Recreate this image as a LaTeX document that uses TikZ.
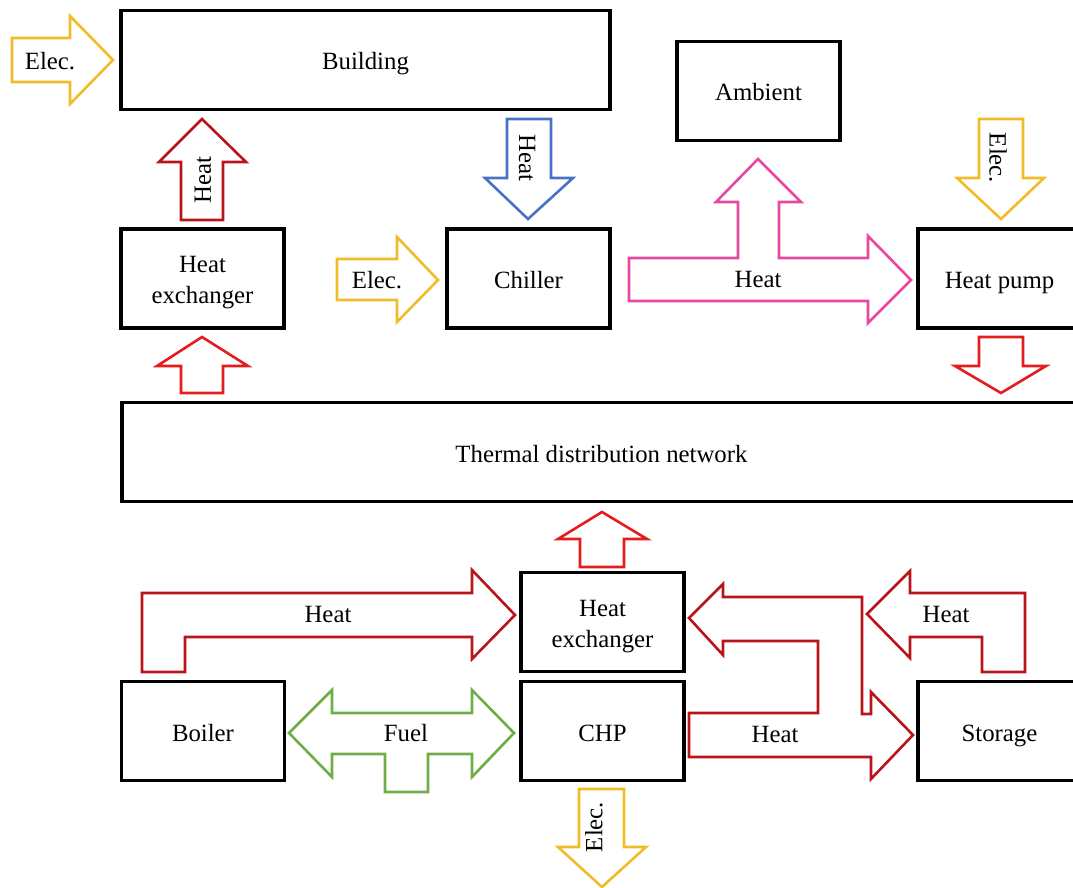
\documentclass[tikz,border=0pt]{standalone}
\usepackage{fontspec}
\setmainfont{Liberation Serif}
\definecolor{elecc}{RGB}{240,188,40}
\definecolor{heatdark}{RGB}{185,20,25}
\definecolor{heatred}{RGB}{228,28,28}
\definecolor{coolblue}{RGB}{72,114,196}
\definecolor{pinkc}{RGB}{232,72,160}
\definecolor{fuelc}{RGB}{112,173,71}

\begin{document}
\begin{tikzpicture}[x=0.5pt,y=-0.5pt,
   every node/.style={font=\fontsize{12.4}{15.5}\selectfont},
   box/.style={draw,line width=1.6pt,minimum width=81.5pt,minimum height=49.5pt,
     align=center,inner sep=1pt,text height=10pt,text depth=0pt},
   twoline/.style={text height=25.5pt,text depth=0pt},
   flow/.style={line width=1.3pt,line join=miter}]
  \useasboundingbox (0,0) rectangle (1073,888);
  % units
  \node[box,minimum width=244.5pt] (building) at (365.5,60) {Building};
  \node[box] (ambient) at (758.5,91) {Ambient};
  \node[box,twoline] (hxtop) at (202.5,278.5) {Heat\\exchanger};
  \node[box] (chiller) at (528.5,278.5) {Chiller};
  \node[box] (hpump) at (999.5,278.5) {Heat pump};
  \node[box,minimum width=479.5pt] (network) at (601.5,452) {Thermal distribution network};
  \node[box,twoline] (hxbot) at (602.5,622) {Heat\\exchanger};
  \node[box] (chp) at (602.5,731) {CHP};
  \node[box] (boiler) at (203,731) {Boiler};
  \node[box] (storage) at (999.5,731) {Storage};
  % upper flows
  \draw[flow,elecc] (12,38) -- (70,38) -- (70,16) -- (113,60) -- (70,104) -- (70,82) -- (12,82) -- cycle;
  \node (elec1) at (50,61) {Elec.};
  \draw[flow,heatdark] (181,220) -- (181,162) -- (159,162) -- (202,119) -- (246,162) -- (223,162) -- (223,220) -- cycle;
  \node[rotate=90] (heat1) at (203,180) {Heat};
  \draw[flow,coolblue] (507,119) -- (551,119) -- (551,178) -- (573,178) -- (528,219) -- (485,178) -- (507,178) -- cycle;
  \node[rotate=-90] (heat2) at (527,158) {Heat};
  \draw[flow,elecc] (337,259) -- (397,259) -- (397,237) -- (438,280) -- (397,322) -- (397,300) -- (337,300) -- cycle;
  \node (elec2) at (377,280) {Elec.};
  \draw[flow,pinkc] (629,258) -- (738,258) -- (738,202) -- (716,202) -- (758,159) -- (801,202) -- (779,202)
    -- (779,258) -- (868,258) -- (868,236) -- (911,280) -- (868,323) -- (868,301) -- (629,301) -- cycle;
  \node (heat3) at (758,280) {Heat};
  \draw[flow,elecc] (979,119) -- (1023,119) -- (1023,178) -- (1044,178) -- (1001,219) -- (957,178) -- (979,178) -- cycle;
  \node[rotate=-90] (elec3) at (998,158) {Elec.};
  % network links
  \draw[flow,heatred] (979,337) -- (1023,337) -- (1023,366) -- (1046,366) -- (1001,393) -- (955,366) -- (979,366) -- cycle;
  \draw[flow,heatred] (181,393) -- (181,366) -- (157,366) -- (202,337) -- (248,366) -- (223,366) -- (223,393) -- cycle;
  \draw[flow,heatred] (580,567) -- (580,539) -- (558,539) -- (602,512) -- (647,539) -- (624,539) -- (624,567) -- cycle;
  % lower flows
  \draw[flow,heatdark] (142,672) -- (142,593) -- (472,593) -- (472,570) -- (515,615) -- (472,659) -- (472,637)
    -- (185,637) -- (185,672) -- cycle;
  \node (heat4) at (328,615) {Heat};
  \draw[flow,fuelc] (289,733) -- (332,690) -- (332,713) -- (472,713) -- (472,690) -- (514,733) -- (472,777)
    -- (472,754) -- (428,754) -- (428,792) -- (385,792) -- (385,754) -- (332,754) -- (332,777) -- cycle;
  \node (fuel) at (406,733) {Fuel};
  \draw[flow,heatdark] (689,713) -- (818,713) -- (818,641) -- (723,641) -- (723,655) -- (689,618) -- (723,584)
    -- (723,597) -- (862,597) -- (862,714) -- (871,714) -- (871,692) -- (913,735) -- (871,779) -- (871,757)
    -- (689,757) -- cycle;
  \node (heat5) at (775,735) {Heat};
  \draw[flow,heatdark] (867,614) -- (910,571) -- (910,593) -- (1025,593) -- (1025,672) -- (982,672) -- (982,637)
    -- (910,637) -- (910,658) -- cycle;
  \node (heat6) at (946,615) {Heat};
  \draw[flow,elecc] (579,789) -- (624,789) -- (624,847) -- (646,847) -- (602,887) -- (558,847) -- (579,847) -- cycle;
  \node[rotate=90] (elec4) at (594,827) {Elec.};
\end{tikzpicture}
\end{document}
